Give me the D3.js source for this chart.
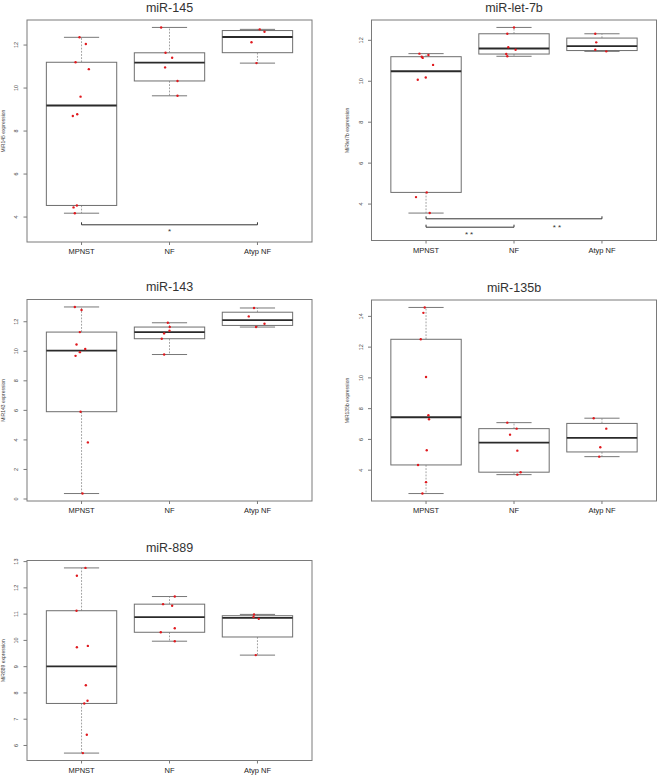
<!DOCTYPE html>
<html>
<head>
<meta charset="utf-8">
<script src="https://cdn.jsdelivr.net/npm/d3@7"></script>
<style>
  body { margin: 0; background: #fff; }
  svg { display: block; }
  text { font-family: "Liberation Sans", Arial, Helvetica, sans-serif; }
</style>
</head>
<body>
<div id="chart"></div>
<script>
// groups on the x axis (same for every panel)
var groups = ["MPNST", "NF", "Atyp NF"];

// expression values per group
var mir145Values = [
    [12.36, 12.05, 11.2, 10.88, 9.6, 8.78, 8.7, 4.54, 4.45, 4.18],
    [12.82, 11.64, 11.41, 10.96, 10.33, 9.64],
    [12.73, 12.62, 12.13, 11.16]
];
var let7bValues = [
    [11.35, 11.28, 11.2, 11.14, 10.8, 10.18, 10.07, 4.57, 4.34, 3.56],
    [12.63, 12.32, 11.66, 11.54, 11.33, 11.22],
    [12.32, 11.9, 11.54, 11.46]
];
var mir143Values = [
    [13.0, 12.79, 11.3, 10.46, 10.15, 9.94, 9.69, 5.91, 3.83, 0.37],
    [11.93, 11.64, 11.39, 11.21, 10.85, 9.78],
    [12.93, 12.36, 11.86, 11.64]
];
var mir135bValues = [
    [14.58, 14.23, 12.51, 10.06, 7.57, 7.31, 5.3, 4.34, 3.22, 2.48],
    [7.09, 6.70, 6.31, 5.27, 3.87, 3.71],
    [7.38, 6.70, 5.49, 4.88]
];
var mir889Values = [
    [12.76, 12.46, 11.13, 9.79, 9.74, 8.29, 7.70, 7.60, 6.41, 5.71],
    [11.67, 11.38, 11.32, 10.46, 10.31, 9.97],
    [10.99, 10.89, 10.82, 9.44]
];

// horizontal jitter of each point, in group units (same order as values)
var mir145Jitter = [
    [-0.023, 0.049, -0.068, 0.083, -0.011, -0.049, -0.099, -0.053, -0.091, -0.076],
    [-0.095, -0.045, 0.03, -0.05, 0.091, 0.091],
    [0.026, 0.08, -0.068, -0.011]
];
var let7bJitter = [
    [-0.075, 0.027, -0.049, -0.038, 0.08, -0.003, -0.094, 0.008, -0.114, 0.042],
    [0, -0.076, -0.065, 0.018, -0.088, -0.076],
    [-0.076, -0.065, -0.076, 0.049]
];
var mir143Jitter = [
    [-0.076, 0, -0.019, -0.057, 0.042, -0.019, -0.068, -0.011, 0.072, 0.011],
    [-0.019, 0.003, 0, -0.061, -0.088, -0.061],
    [-0.039, -0.099, 0.08, -0.016]
];
var mir135bJitter = [
    [-0.015, -0.03, -0.06, 0, 0.027, 0.034, 0.008, -0.091, 0, -0.041],
    [-0.076, 0.03, -0.045, 0.038, 0.075, 0.038],
    [-0.094, 0.049, -0.019, -0.031]
];
var mir889Jitter = [
    [0.045, -0.053, -0.057, 0.072, -0.053, 0.049, 0.068, 0.031, 0.06, 0.015],
    [0.06, -0.073, 0.03, 0.06, -0.099, 0.06],
    [-0.039, -0.045, 0.015, -0.019]
];

// y tick labels
var mir145Ticks = [4, 6, 8, 10, 12];
var let7bTicks = [4, 6, 8, 10, 12];
var mir143Ticks = [0, 2, 4, 6, 8, 10, 12];
var mir135bTicks = [4, 6, 8, 10, 12, 14];
var mir889Ticks = [6, 7, 8, 9, 10, 11, 12, 13];

// significance brackets: group indices, bracket level, label and where it sits
var mir145Brackets = [
    { from: 0, to: 2, y: 3.64, label: "*", labelAt: 1, labelY: 3.41 }
];
var let7bBrackets = [
    { from: 0, to: 2, y: 3.28, label: "**", labelAt: 1.5, labelY: 2.96 },
    { from: 0, to: 1, y: 2.87, label: "**", labelAt: 0.5, labelY: 2.61 }
];

BoxPanel = function(_parent, _opts){
    this.parent = _parent;
    this.opts = _opts;
    this.initVis();
};

// R's fivenum (Tukey hinges)
function fivenum(x){
    var s = x.slice().sort(d3.ascending), n = s.length;
    var n4 = Math.floor((n + 3) / 2) / 2;
    var d = [1, n4, (n + 1) / 2, n + 1 - n4, n];
    return d.map(function(i){ return 0.5 * (s[Math.floor(i) - 1] + s[Math.ceil(i) - 1]); });
}

BoxPanel.prototype.initVis = function(){
    var vis = this, o = vis.opts;

    vis.width = o.width;
    vis.height = o.height;
    vis.g = vis.parent.append("g")
        .attr("transform", "translate(" + o.left + "," + o.top + ")");

    // y domain: data range + 4% like R, lower limit can be forced
    var all = d3.merge(o.values);
    var ext = d3.extent(all), pad = (ext[1] - ext[0]) * 0.04;
    var lo = o.yMin != null ? o.yMin : ext[0] - pad;
    vis.y = d3.scaleLinear().domain([lo, ext[1] + pad]).range([vis.height, 0]);
    vis.x = d3.scaleLinear().domain([0.38, 3.62]).range([0, vis.width]);

    var pos = function(i){ return vis.x(i + 1); };
    var bw = vis.x(1.8) - vis.x(1);

    // boxes
    o.values.forEach(function(vals, i){
        var f = fivenum(vals);
        var iqr = f[3] - f[1];
        var wLo = d3.min(vals.filter(function(v){ return v >= f[1] - 1.5 * iqr; }));
        var wHi = d3.max(vals.filter(function(v){ return v <= f[3] + 1.5 * iqr; }));
        var cx = pos(i);
        var b = vis.g.append("g").attr("class", "box");

        b.selectAll("line.whisker")
            .data([[f[3], wHi], [f[1], wLo]])
            .enter().append("line")
            .attr("class", "whisker")
            .attr("x1", cx).attr("x2", cx)
            .attr("y1", function(d){ return vis.y(d[0]); })
            .attr("y2", function(d){ return vis.y(d[1]); })
            .attr("stroke", "#8a8a8a")
            .attr("stroke-width", 0.8)
            .attr("stroke-dasharray", "1.8,1.4");

        b.selectAll("line.staple")
            .data([wHi, wLo])
            .enter().append("line")
            .attr("class", "staple")
            .attr("x1", cx - bw / 4).attr("x2", cx + bw / 4)
            .attr("y1", function(d){ return vis.y(d); })
            .attr("y2", function(d){ return vis.y(d); })
            .attr("stroke", "#777")
            .attr("stroke-width", 1);

        b.append("rect")
            .attr("x", cx - bw / 2)
            .attr("width", bw)
            .attr("y", vis.y(f[3]))
            .attr("height", vis.y(f[1]) - vis.y(f[3]))
            .attr("fill", "#fff")
            .attr("stroke", "#6e6e6e")
            .attr("stroke-width", 1);

        b.append("line")
            .attr("x1", cx - bw / 2).attr("x2", cx + bw / 2)
            .attr("y1", vis.y(f[2])).attr("y2", vis.y(f[2]))
            .attr("stroke", "#2a2a2a")
            .attr("stroke-width", 1.8);
    });

    // jittered points
    o.values.forEach(function(vals, i){
        vis.g.selectAll("circle.g" + i)
            .data(vals)
            .enter().append("circle")
            .attr("class", "g" + i)
            .attr("cx", function(d, j){ return vis.x(i + 1 + o.jitter[i][j]); })
            .attr("cy", function(d){ return vis.y(d); })
            .attr("r", 1.2)
            .attr("fill", "#e0191e");
    });

    // brackets
    (o.brackets || []).forEach(function(br){
        var x1 = pos(br.from), x2 = pos(br.to), yy = vis.y(br.y);
        vis.g.append("path")
            .attr("d", "M" + x1 + "," + (yy - 2.5) + "V" + yy + "H" + x2 + "V" + (yy - 2.5))
            .attr("fill", "none")
            .attr("stroke", "#333")
            .attr("stroke-width", 1);
        vis.g.append("text")
            .attr("x", pos(br.labelAt))
            .attr("y", vis.y(br.labelY) + 4.6)
            .attr("text-anchor", "middle")
            .attr("font-size", "8px")
            .attr("letter-spacing", br.label.length > 1 ? "2px" : null)
            .attr("fill", "#333")
            .text(br.label);
    });

    // frame
    vis.g.append("rect")
        .attr("width", vis.width)
        .attr("height", vis.height)
        .attr("fill", "none")
        .attr("stroke", "#7a7a7a")
        .attr("stroke-width", 1);

    // y axis
    var yAxis = vis.g.append("g").attr("class", "y axis");
    yAxis.selectAll("line")
        .data(o.ticks)
        .enter().append("line")
        .attr("x1", -3.5).attr("x2", 0)
        .attr("y1", function(d){ return vis.y(d); })
        .attr("y2", function(d){ return vis.y(d); })
        .attr("stroke", "#7a7a7a");
    yAxis.selectAll("text")
        .data(o.ticks)
        .enter().append("text")
        .attr("transform", function(d){ return "translate(-9," + vis.y(d) + ") rotate(-90)"; })
        .attr("text-anchor", "middle")
        .attr("font-size", "5.5px")
        .attr("fill", "#444")
        .text(function(d){ return d; });

    // x axis
    var xAxis = vis.g.append("g").attr("class", "x axis")
        .attr("transform", "translate(0," + vis.height + ")");
    xAxis.selectAll("line")
        .data(groups)
        .enter().append("line")
        .attr("x1", function(d, i){ return pos(i); })
        .attr("x2", function(d, i){ return pos(i); })
        .attr("y1", 0).attr("y2", 3)
        .attr("stroke", "#7a7a7a");
    xAxis.selectAll("text")
        .data(groups)
        .enter().append("text")
        .attr("x", function(d, i){ return pos(i); })
        .attr("y", 12)
        .attr("text-anchor", "middle")
        .attr("font-size", "7.5px")
        .attr("fill", "#222")
        .attr("font-family", "'Liberation Sans Narrow', 'Liberation Sans', Arial, sans-serif")
        .text(function(d){ return d; });

    // axis label
    vis.g.append("text")
        .attr("transform", "translate(" + (-o.ylabOffset) + "," + (vis.height / 2) + ") rotate(-90)")
        .attr("text-anchor", "middle")
        .attr("font-size", "5px")
        .attr("fill", "#444")
        .text(o.ylab);

    // title
    vis.g.append("text")
        .attr("x", vis.width / 2)
        .attr("y", -8.5)
        .attr("text-anchor", "middle")
        .attr("font-size", "12.5px")
        .attr("fill", "#333")
        .text(o.title);
};

var svg = d3.select("#chart").append("svg")
    .attr("width", 658)
    .attr("height", 775);

new BoxPanel(svg, { title: "miR-145", ylab: "MiR145 expression", values: mir145Values, jitter: mir145Jitter,
    ticks: mir145Ticks, brackets: mir145Brackets, yMin: 2.84, left: 27, top: 20, width: 285, height: 222, ylabOffset: 22 });
new BoxPanel(svg, { title: "miR-let-7b", ylab: "MiRlet7b expression", values: let7bValues, jitter: let7bJitter,
    ticks: let7bTicks, brackets: let7bBrackets, yMin: 2.22, left: 371.5, top: 20, width: 285, height: 220.5, ylabOffset: 23 });
new BoxPanel(svg, { title: "miR-143", ylab: "MiR143 expression", values: mir143Values, jitter: mir143Jitter,
    ticks: mir143Ticks, left: 27, top: 299.5, width: 285, height: 201.5, ylabOffset: 22 });
new BoxPanel(svg, { title: "miR-135b", ylab: "MiR135b expression", values: mir135bValues, jitter: mir135bJitter,
    ticks: mir135bTicks, left: 371.5, top: 300, width: 285, height: 201, ylabOffset: 23 });
new BoxPanel(svg, { title: "miR-889", ylab: "MiR889 expression", values: mir889Values, jitter: mir889Jitter,
    ticks: mir889Ticks, left: 27, top: 560.5, width: 285, height: 200, ylabOffset: 22 });
</script>
</body>
</html>
